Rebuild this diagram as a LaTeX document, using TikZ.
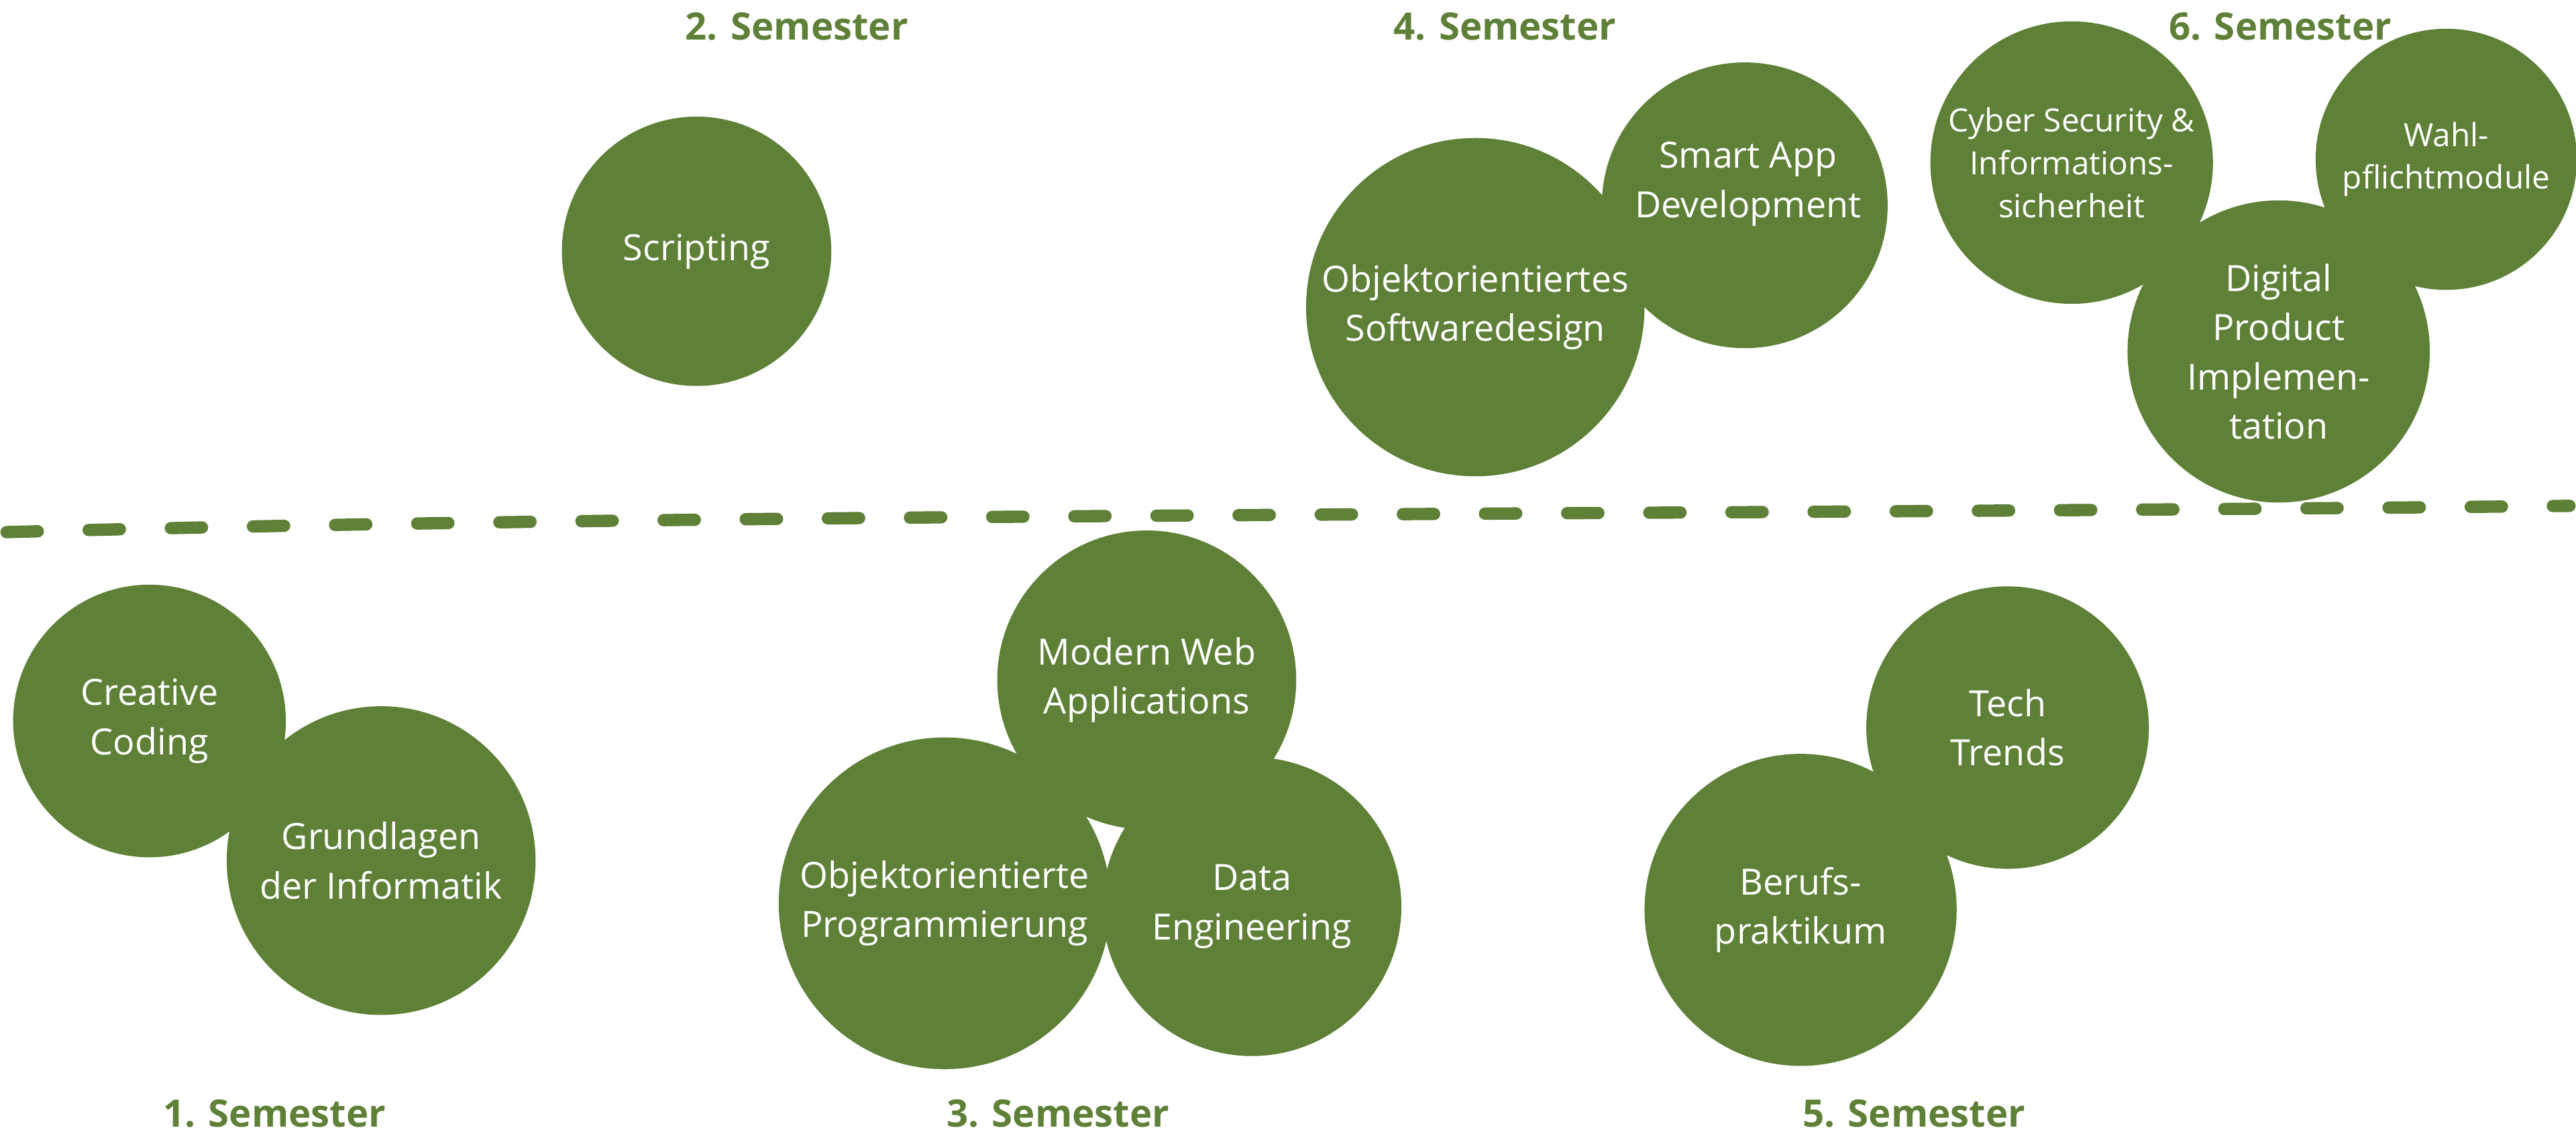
\documentclass[tikz,border=0pt]{standalone}
\usepackage{fontspec}
\setmainfont{Open Sans}
\usetikzlibrary{positioning}
\definecolor{modgreen}{RGB}{94,128,55}
\tikzset{
        modnode/.style={align=center,inner sep=0pt},
        % module circles
        node_module/.style={modnode, circle, fill=modgreen, text=white, font=\fontsize{22}{30}\selectfont},
        node_small/.style={node_module, font=\fontsize{19.5}{26}\selectfont},
        % semester labels
        node_semester/.style={modnode, text=modgreen, font=\fontsize{23}{28}\selectfont\bfseries}
}
\begin{document}
\begin{tikzpicture}[x=1pt, y=-1pt]
    \useasboundingbox (0,0) rectangle (1568,689);

    % separator
    \coordinate (sepL) at (4,324);
    \coordinate (sepR) at (1564,308);
    \draw[modgreen, line width=7.5pt, line cap=round, dash pattern=on 19pt off 31pt]
        (sepL) .. controls (450,312) and (1000,314) .. (sepR);

    % 1. Semester
    \node[node_module, minimum size=166pt] (cc) at (91,439) {Creative\\Coding};
    \node[node_module, minimum size=188pt] (gdi) at (232,524) {Grundlagen\\der Informatik};
    \node[node_semester] (s1) at (167,678) {1. Semester};

    % 2. Semester
    \node[node_module, minimum size=164pt] (scr) at (424,153) {Scripting};
    \node[node_semester] (s2) at (485,16) {2. Semester};

    % 3. Semester
    \node[node_module, minimum size=182pt] (mwa) at (698,414) {Modern Web\\Applications};
    \node[node_module, minimum size=202pt] (oop) at (575,550) {Objektorientierte\\Programmierung};
    \node[node_module, minimum size=182pt] (de) at (762,552) {Data\\Engineering};
    \node[node_semester] (s3) at (644,678) {3. Semester};

    % 4. Semester
    \node[node_module, minimum size=174pt] (sad) at (1062,125) {};
    \node[modnode, text=white, font=\fontsize{22}{30}\selectfont] (sadt) at (1064,112) {Smart App\\Development};
    \node[node_module, minimum size=206pt] (oosd) at (898,187) {Objektorientiertes\\Softwaredesign};
    \node[node_semester] (s4) at (916,16) {4. Semester};

    % 5. Semester
    \node[node_module, minimum size=172pt] (tt) at (1222,443) {Tech\\Trends};
    \node[node_module, minimum size=190pt] (bp) at (1096,554) {Berufs-\\praktikum};
    \node[node_semester] (s5) at (1165,678) {5. Semester};

    % 6. Semester
    \node[node_small, minimum size=172pt] (cys) at (1261,99) {Cyber Security \&\\Informations-\\sicherheit};
    \node[node_small, minimum size=159pt] (wpm) at (1489,97) {Wahl-\\pflichtmodule};
    \node[node_module, minimum size=184pt] (dpi) at (1387,214) {Digital\\Product\\Implemen-\\tation};
    \node[node_semester] (s6) at (1388,16) {6. Semester};
\end{tikzpicture}
\end{document}
